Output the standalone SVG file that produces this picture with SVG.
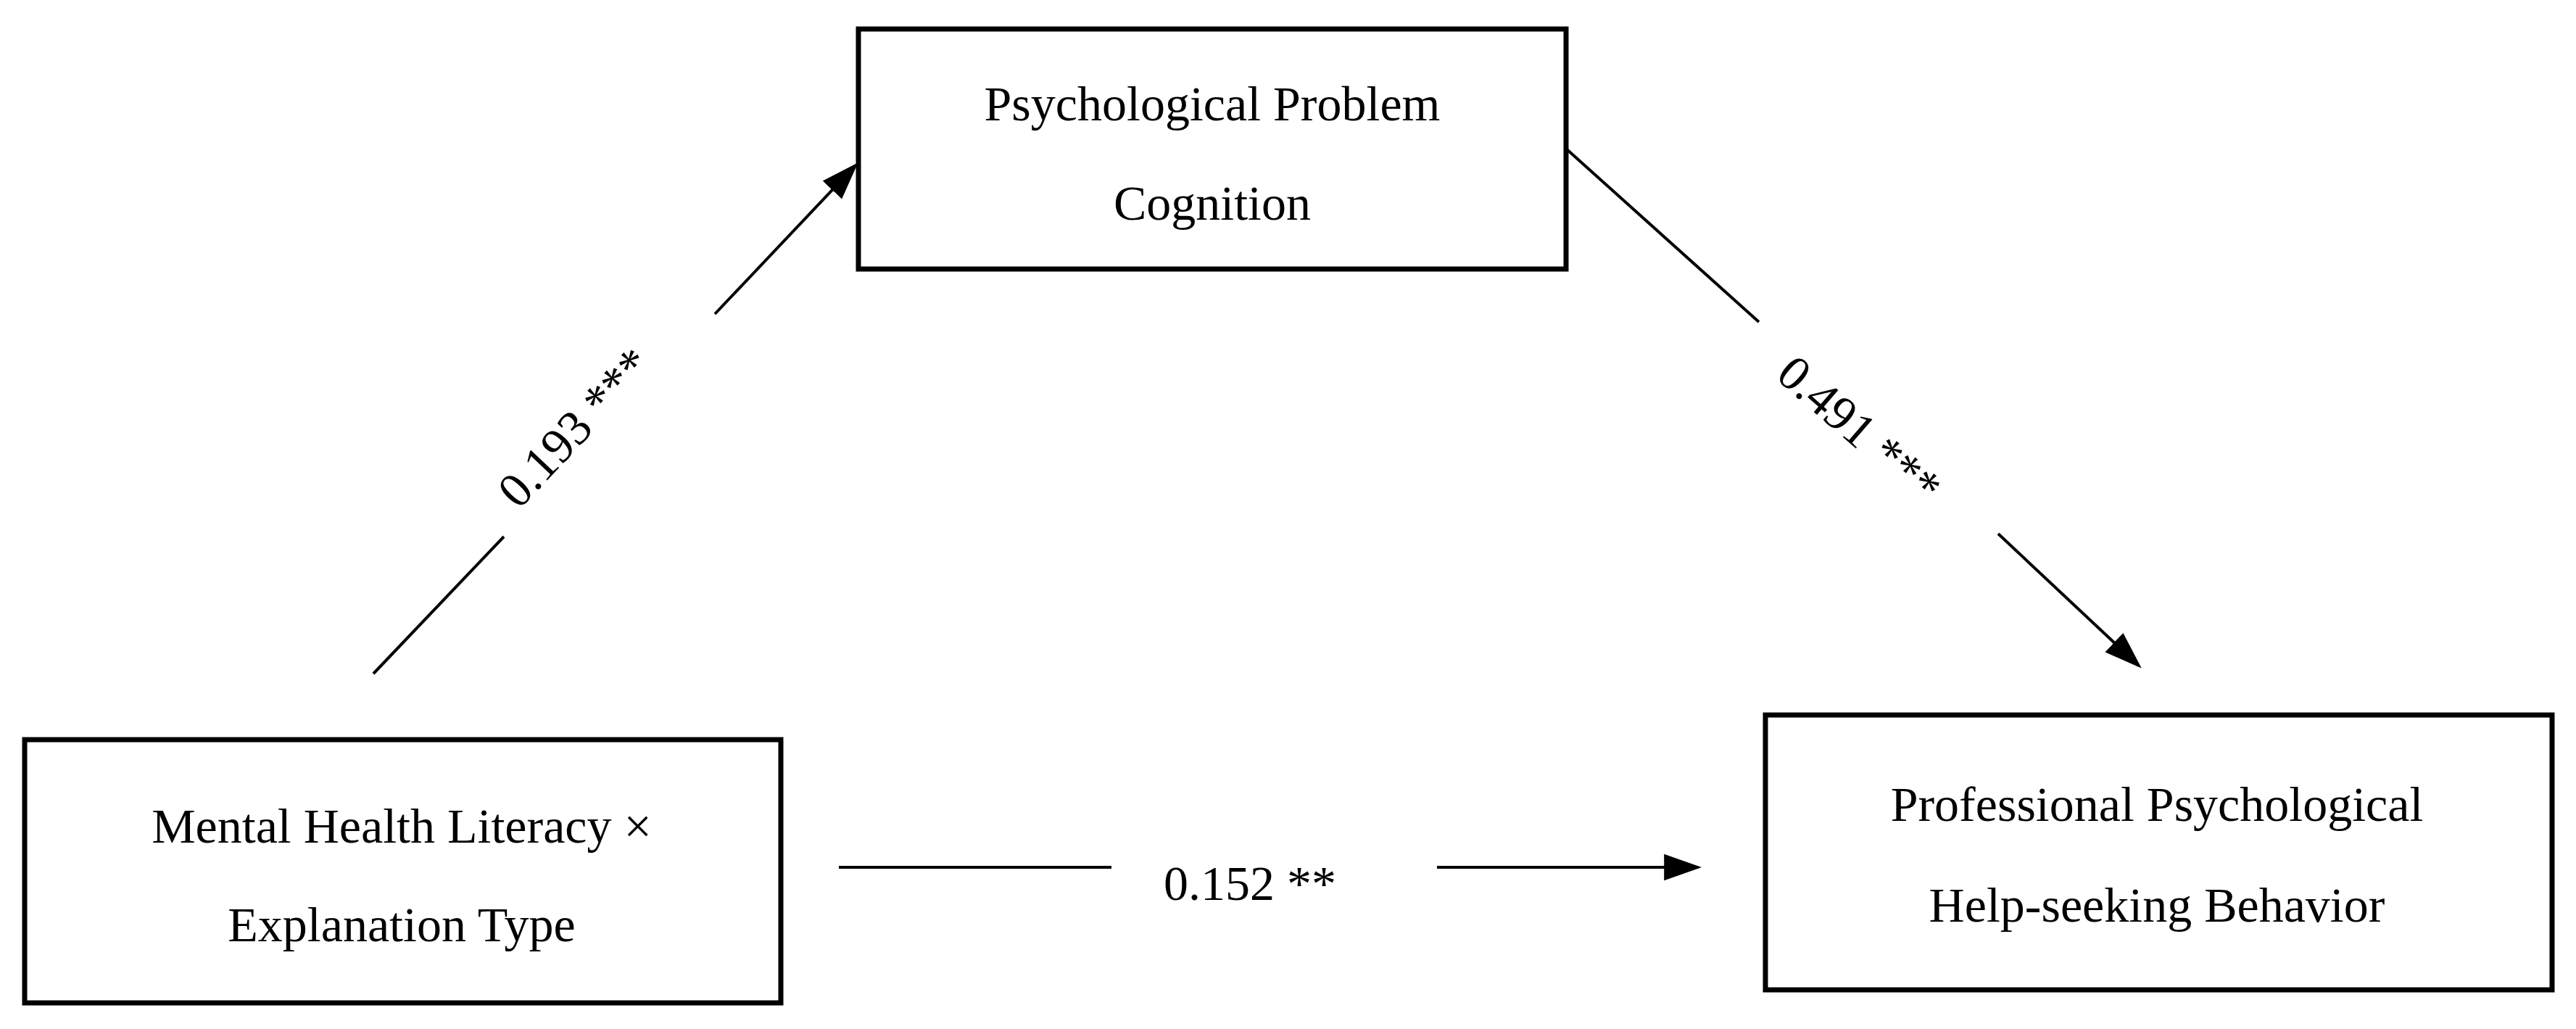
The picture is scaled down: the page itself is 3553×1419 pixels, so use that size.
<svg xmlns="http://www.w3.org/2000/svg" width="3553" height="1419" viewBox="0 0 3553 1419">
<style>
.box{fill:#fff;stroke:#000;stroke-width:7}
.t{font-family:"Liberation Serif",serif;font-size:68px;fill:#000;text-anchor:middle}
.ln{stroke:#000;stroke-width:4;fill:none}
</style>
<defs><marker id="ah" viewBox="0 0 10 10" refX="9" refY="5" markerWidth="12" markerHeight="12" markerUnits="userSpaceOnUse" orient="auto"><path d="M0,0L10,5L0,10z"/></marker>
<marker id="a" viewBox="0 0 10 10" refX="9" refY="5" markerWidth="13" markerHeight="13" orient="auto"><path d="M0,1.5L10,5L0,8.5z" fill="#000"/></marker></defs>
<rect width="3553" height="1419" fill="#fff"/>
<g id="node-ppc"><rect class="box" x="1184" y="40" width="976" height="331"/><text class="t" x="1672" y="166">Psychological Problem</text><text class="t" x="1672" y="303">Cognition</text></g>
<g id="node-mhl"><rect class="box" x="34" y="1020" width="1043" height="363"/><text class="t" x="554" y="1162">Mental Health Literacy ×</text><text class="t" x="554" y="1298">Explanation Type</text></g>
<g id="node-pph"><rect class="box" x="2435" y="986" width="1085" height="379"/><text class="t" x="2975" y="1132">Professional Psychological</text><text class="t" x="2975" y="1271">Help-seeking Behavior</text></g>
<g id="connectors">
<line class="ln" x1="515" y1="929" x2="695" y2="740"/><line class="ln" x1="986" y1="433" x2="1180" y2="228" marker-end="url(#a)"/>
<text class="t" transform="translate(809,605) rotate(-46.5)" x="0" y="0">0.193 ***</text>
<line class="ln" x1="2160" y1="205" x2="2426" y2="444"/><line class="ln" x1="2756" y1="736" x2="2950" y2="918" marker-end="url(#a)"/>
<text class="t" transform="translate(2550,610) rotate(41)" x="0" y="0">0.491 ***</text>
<line class="ln" x1="1157" y1="1196" x2="1533" y2="1196"/><line class="ln" x1="1982" y1="1196" x2="2342" y2="1196" marker-end="url(#a)"/>
<text class="t" x="1724" y="1241">0.152 **</text>
</g>
</svg>
